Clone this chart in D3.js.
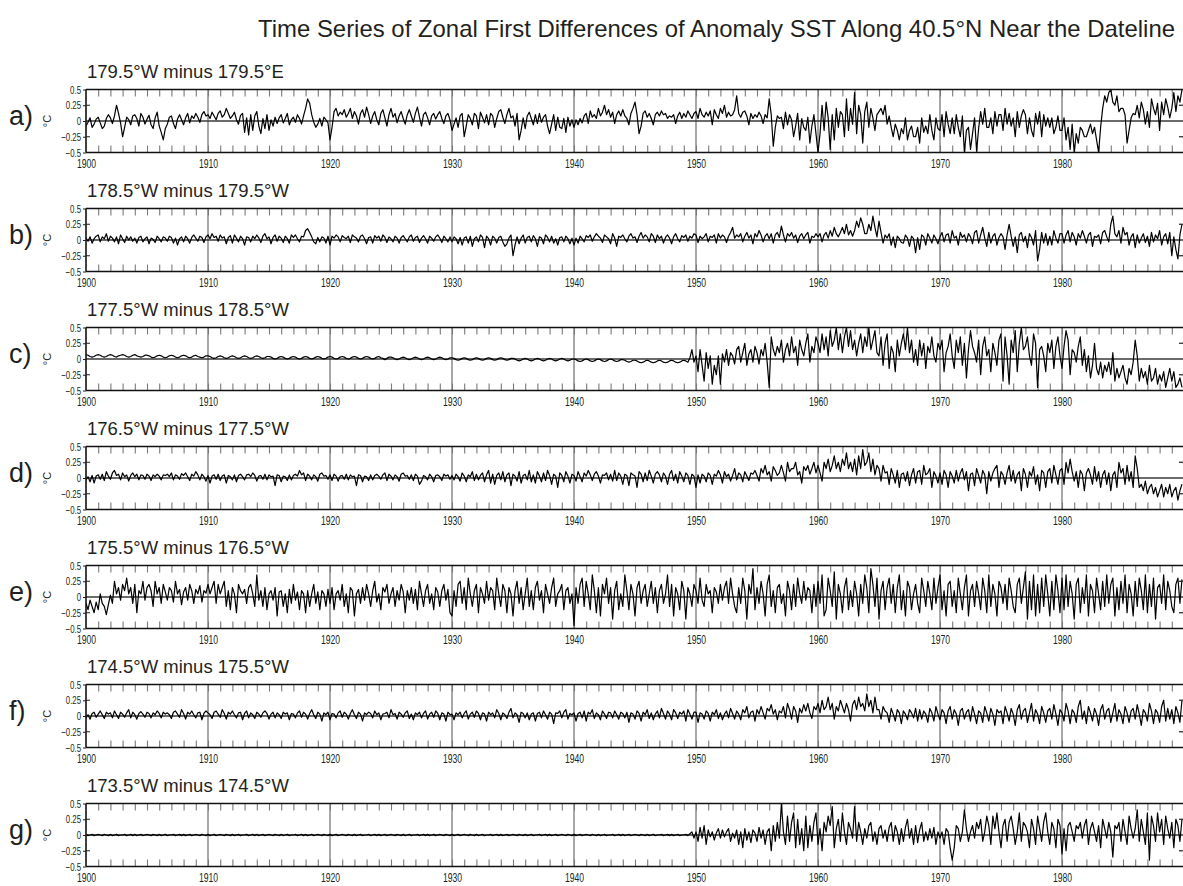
<!DOCTYPE html>
<html>
<head>
<meta charset="utf-8">
<script src="https://cdn.jsdelivr.net/npm/d3@7"></script>
<style>
  html, body { margin: 0; padding: 0; background: #fff; overflow: hidden; }
  svg { display: block; font-family: "Liberation Sans", Arial, sans-serif; }
</style>
</head>
<body>
<svg id="chart" width="1183" height="886"></svg>
<script>
// Zonal first differences of anomaly SST, six samples per year from 1900.0,
// in hundredths of a degree C. One row per decade, one group of six per year.
const diffA = [
  -8,-2,5,-10,-5,3, 6,-3,-12,-8,4,10, 5,-4,8,25,12,-3, -25,-10,6,2,-6,8, 10,4,-8,12,6,-5, 3,9,-6,-12,5,14, -8,-18,-30,-12,-5,6, 8,-4,-12,3,10,2, -6,5,12,-3,8,4, 12,6,-2,10,15,8,
  10,4,14,8,2,12, 16,6,10,20,12,4, 8,14,2,-5,9,12, -18,5,-22,10,-15,8, 15,-8,-20,4,-12,10, -15,2,-8,6,-4,5, 10,-3,4,12,-6,2, 6,-2,10,4,-5,8, 20,35,28,10,-2,-10, -5,4,-8,6,2,-3,
  -30,-10,15,20,8,14, 10,18,6,12,20,4, 15,8,-5,12,18,6, 22,10,-4,8,15,2, -6,12,18,5,-8,10, 20,6,12,-3,8,15, 4,-5,10,18,8,-2, 12,22,6,-8,10,14, 5,-6,8,12,3,10, 15,4,-4,8,12,2,
  -15,-5,5,-10,8,12, -25,-8,10,4,-6,12, 8,-12,14,6,-3,10, -6,12,8,-10,4,15, 18,6,-4,10,20,5, 8,-8,12,-30,-15,5, -12,8,14,4,-6,10, -4,12,-2,6,10,-8, -20,-5,10,-15,6,-10, -12,4,-18,6,-8,2,
  -10,2,-6,4,-3,8, 12,-4,16,6,10,4, 20,8,14,25,10,18, 6,14,-4,10,16,8, 18,8,4,-6,12,20, 30,10,-20,-8,12,16, 6,12,4,-6,10,14, 8,16,10,12,4,8, 6,10,-4,8,14,4, 12,6,16,10,4,12,
  15,4,20,10,6,14, 8,16,-6,18,10,4, 20,12,25,6,14,8, 10,18,40,12,6,14, 16,8,-6,12,4,10, 6,14,8,-4,10,5, 35,10,-40,-10,8,4, 6,-12,14,-6,10,2, -25,-8,12,-30,4,-10, -15,6,-35,-8,10,-20,
  -50,-20,25,-15,30,5, -45,10,-30,20,-10,15, 10,-25,35,-15,20,-5, 45,-20,25,10,-35,15, 30,-10,20,5,-15,10, 15,20,10,25,-5,8, -10,-25,-5,-15,-30,-12, -20,5,-30,-15,-8,-25, -25,-10,-35,5,-18,-8, -20,10,-15,-30,5,-12,
  -15,10,-25,15,-5,-20, 5,-20,10,-10,-25,8, -50,-15,-10,-45,-20,5, -48,-12,15,-5,20,-10, -10,5,-20,15,-8,10, 10,-15,20,-5,12,-8, 5,-25,15,-10,8,18, 10,-20,5,-15,-25,12, -5,15,-25,10,-8,5, -10,5,-20,-10,8,-15,
  -15,5,-30,-10,-45,-5, -50,-20,-35,-10,-15,-25, -25,-15,-5,-20,-10,-30, -50,-10,20,40,30,45, 50,30,25,40,15,20, 20,10,-35,-15,5,12, 10,25,5,30,18,-5, 15,-10,35,20,10,28, -15,30,10,35,22,5, 20,45,15,40,30,50
];
const diffB = [
  3,-2,5,-5,2,6, 8,-3,5,2,10,-2, 6,3,-3,5,-6,8, 2,-4,6,0,5,-2, 3,-5,4,6,-3,2, 5,-6,3,1,-4,6, 2,-3,5,3,-2,6, 4,-5,3,-8,2,5, -3,6,2,-5,4,8, 3,-2,6,4,-4,5,
  8,2,10,4,6,-2, 8,3,5,-6,4,7, -5,8,3,-3,6,2, -8,5,4,-3,6,2, 8,3,-4,6,10,2, 5,-6,4,8,-2,6, 3,-4,6,2,-5,8, 4,8,2,-3,6,5, 15,18,12,5,-3,-6, 4,-3,5,3,-5,6,
  -8,6,3,8,5,-3, 7,4,2,6,-4,8, 5,3,-3,6,8,2, -6,4,5,-5,7,3, 6,-2,8,4,-4,5, 2,-3,6,3,-5,4, 7,2,-3,5,8,-2, 4,6,-4,3,7,2, -5,6,3,-2,5,8, 3,-4,6,2,-3,5,
  -3,5,2,-6,4,-8, 3,5,-5,6,-10,2, 5,-3,8,4,-12,6, 2,-8,6,3,-5,4, 6,-3,-10,-6,3,8, -25,-8,5,-6,3,8, -5,4,6,-3,7,2, -10,5,3,-6,8,4, -3,6,-5,2,-8,4, 5,-3,6,2,-6,3,
  -8,3,-5,6,2,-3, 7,4,8,-2,5,10, 6,3,-4,8,5,2, -6,10,3,-10,6,4, 8,2,-3,6,10,3, 5,-4,6,12,3,8, 5,-3,10,6,-4,8, 2,6,-5,4,8,3, -6,5,10,2,-3,7, 4,8,-2,6,3,10,
  8,-4,6,2,5,10, -3,6,4,8,-5,10, 3,8,5,-4,6,12, 20,3,8,5,10,-3, 6,12,3,8,-6,10, 5,15,8,-3,6,10, 2,10,-5,8,12,4, 22,8,-3,10,6,12, 3,8,-4,6,10,2, 8,12,-5,6,4,10,
  5,10,-3,8,12,3, 15,6,20,10,5,12, 20,10,25,8,15,6, 15,30,20,35,25,10, 10,25,15,38,20,5, 30,12,-5,8,3,10, -8,5,-12,6,2,-4, -5,8,3,-10,6,2, -20,4,-15,8,5,-8, 10,3,-5,8,2,-6,
  5,12,-3,8,10,-5, 15,3,6,-8,12,4, 8,-3,10,5,-6,12, 15,-5,8,20,3,-10, 12,-5,6,10,-8,4, 10,5,-15,8,25,6, -10,5,-20,8,12,-3, 6,-12,10,4,-8,15, -33,-15,12,-5,10,-8, 6,-8,15,3,-5,10,
  10,-5,8,15,-3,12, 5,-8,10,3,15,6, -5,8,12,-10,6,4, 8,-6,12,15,5,-3, 25,38,10,5,15,-5, 20,8,12,-8,5,10, -12,8,-5,3,10,-4, 6,-10,12,-3,8,2, 15,-8,5,10,-6,12, -25,5,-15,-30,8,25
];
const diffC = [
  7,6,4,3,4,6, 7,6,4,3,4,6, 7,6,4,3,5,6, 7,6,4,3,4,6, 7,5,4,3,4,6, 6,5,3,2,3,5, 6,5,3,2,3,5, 6,5,3,2,3,5, 6,5,3,2,3,5, 6,4,3,2,3,5,
  5,4,2,1,2,4, 5,4,2,1,2,4, 5,4,2,1,2,4, 5,4,2,1,2,4, 5,4,2,1,2,4, 4,3,1,0,1,3, 4,3,1,0,1,3, 4,3,1,0,1,3, 4,3,1,0,1,3, 4,3,1,0,1,3,
  4,3,1,0,1,3, 4,3,1,0,1,3, 4,3,1,0,1,3, 4,3,1,0,1,3, 4,2,1,-1,1,3, 3,2,0,-1,0,2, 3,2,0,-1,0,2, 3,2,0,-1,0,2, 3,2,0,-1,0,2, 3,2,0,-1,0,2,
  2,1,-1,-2,-1,1, 2,1,-1,-2,-1,1, 2,1,-1,-2,-1,1, 2,1,-1,-2,-1,1, 2,1,-1,-2,-1,1, 1,0,-2,-3,-2,0, 1,0,-2,-3,-2,0, 1,0,-2,-3,-2,0, 1,0,-2,-3,-2,0, 1,0,-2,-3,-2,0,
  0,-1,-3,-4,-3,-1, 0,-1,-3,-4,-3,-1, 0,-1,-3,-4,-3,-1, 0,-1,-3,-4,-3,-1, -1,-2,-4,-5,-4,-2, -2,-3,-5,-6,-5,-3, -2,-3,-5,-6,-5,-3, -2,-3,-5,-6,-5,-3, -2,-3,-5,-6,-5,-3, -2,-3,-5,2,15,-5,
  5,-20,15,-10,-35,10, -15,5,-40,-10,-25,5, -40,8,-5,15,-10,10, 5,-8,15,20,-5,10, 25,-10,8,15,-5,20, 10,-8,15,5,25,-5, -45,35,15,5,20,10, 30,-5,15,25,5,35, 10,20,-10,30,15,5, 25,40,-5,20,10,35,
  25,10,40,15,35,5, 45,20,30,50,15,40, 10,35,50,20,45,15, 30,5,25,40,10,35, 20,50,15,30,45,10, 5,35,-10,25,40,-15, 20,10,-20,30,5,25, 40,15,50,10,30,-5, 15,-10,30,5,25,-15, 20,10,35,5,-5,25,
  15,30,-20,10,20,40, 5,-15,30,10,35,-10, 25,-30,15,45,20,10, -5,30,-25,20,35,5, 15,-20,25,10,-10,30, 40,-35,35,5,-40,30, 10,45,-20,25,50,15, 20,35,5,-10,40,25, -45,15,20,5,-20,25, 10,30,-15,20,35,5,
  -15,20,45,30,-25,15, 10,-5,20,35,-10,15, -20,5,-30,-10,25,-15, -25,-5,-30,-10,-20,-5, -25,10,-35,-15,-30,-20, -10,-30,-40,-15,-25,-5, 30,5,-35,-15,-30,-20, -40,-10,-35,-30,-15,-40, -25,-35,-20,-45,-30,-15, -35,-20,-45,-40,-30,-45
];
const diffD = [
  -3,2,-6,4,-8,3, 5,-2,6,-4,10,3, -2,8,12,4,6,-3, 8,2,5,-5,4,8, 2,6,-3,5,4,-2, 6,3,-4,5,2,6, 3,-3,5,4,6,2, 8,-3,5,3,-2,7, 4,8,2,-4,6,3, 10,5,-3,6,2,-5,
  4,-8,3,5,-2,6, -4,3,5,-8,4,2, -3,5,-6,4,6,2, -3,5,6,2,8,4, -5,3,4,-2,6,-3, 5,2,3,-12,5,4, -6,3,2,-4,5,-3, 4,6,3,12,5,8, -4,6,3,-3,5,2, -5,6,8,3,4,-2,
  5,-4,6,3,-5,3, 4,-2,6,-3,5,2, 3,-12,5,4,-6,3, 2,-4,5,-3,4,6, 3,-2,5,8,-4,6, 3,-3,5,2,-5,6, 8,3,4,-2,5,-4, 6,3,-10,-5,4,2, -3,6,2,-6,4,5, 2,-4,6,3,5,-2,
  4,-3,6,2,-5,8, 3,-6,5,2,10,-4, 6,-3,4,8,-6,5, 12,-8,6,-10,4,8, -3,10,-6,5,8,-12, 6,3,-5,10,-8,4, 6,-3,12,-6,5,-8, 10,3,-6,8,-4,12, 4,-10,6,3,-15,8, 4,-6,10,3,-8,6,
  4,-5,10,2,-6,8, 3,12,5,-4,6,10, 3,-8,5,4,8,-3, 6,-5,12,-4,8,3, -10,6,4,-12,8,5, 3,-15,10,6,-6,8, -4,12,3,-8,6,10, 5,-6,8,3,-10,6, 12,-4,6,-8,10,3, -6,8,4,-10,6,3,
  -15,5,-8,6,3,-6, 8,4,-10,6,3,12, 5,-8,10,2,6,-5, 4,15,-3,8,5,-6, 10,3,-4,8,6,12, 4,-5,15,8,20,5, 10,-5,18,12,4,8, 20,8,-5,25,10,15, 15,25,5,10,-8,18, 12,20,6,15,25,8,
  20,8,-5,25,15,30, 10,20,35,15,25,10, 30,20,40,15,25,10, 30,5,35,15,45,20, 25,40,10,30,5,20, 15,-5,20,8,10,-10, 15,5,-8,12,-15,6, 8,-5,10,-12,5,15, -8,10,12,-10,20,5, 8,15,-15,10,3,-8,
  8,-10,12,5,-15,10, 3,-8,12,-5,8,15, -3,10,-20,6,8,-12, 15,4,-8,12,5,-25, 10,-5,8,15,20,-15, 10,5,-10,8,20,-5, 12,-8,5,10,-20,15, 6,-15,10,3,18,-10, 5,-20,12,8,-15,10, 15,-8,20,5,-10,12,
  15,-10,25,8,30,10, -5,10,-15,12,6,-20, 8,15,5,-10,18,-5, 10,-15,5,12,-10,8, -20,5,10,-15,25,8, 15,-10,20,-5,10,-15, 35,15,-15,-10,-20,-5, -25,-15,-10,-25,-15,-30, -20,-10,-30,-15,-25,-10, -30,-20,-15,-35,-20,-10
];
const diffE = [
  -10,-20,-5,-15,-25,-8, -20,5,-10,-15,-28,-12, 3,-10,25,5,15,-5, 20,10,30,5,15,-10, 20,-25,10,5,25,-5, 15,20,10,-15,25,5, 15,-10,20,8,-5,15, 10,-8,25,5,12,-12, 8,15,-5,20,10,-10, 12,5,18,-8,10,6,
  20,5,15,25,-10,20, 5,15,25,-15,10,-20, 15,5,-25,20,10,5, 12,-10,15,20,5,-15, 35,-5,10,-15,15,-20, 5,10,-5,15,-30,8, 10,-15,5,-25,12,-10, 20,-5,8,-20,10,5, -25,10,-15,5,20,-10, 8,-20,10,5,-15,12,
  -10,15,-20,5,10,-5, 20,-15,5,-25,15,10, -30,5,12,-10,15,-5, 20,5,-15,10,25,-8, 5,-20,15,8,20,-10, 5,15,-15,10,-5,20, 8,-25,10,-5,15,-10, 12,-20,25,5,-15,10, 20,-10,5,-20,15,8, -15,10,20,-5,12,-25,
  -30,10,-15,20,25,-10, 15,-20,30,5,-15,10, 20,-25,15,5,-10,25, -5,15,10,-20,30,5, -15,20,10,-25,15,5, -30,10,25,-10,15,-20, 5,30,-15,10,-20,15, 25,-5,10,-25,20,5, -10,15,30,-15,5,10, 20,-20,10,15,-10,5,
  -45,15,-10,20,30,-15, 25,5,-20,35,10,-25, 15,-30,20,5,30,-10, 15,-35,10,25,-20,5, -15,35,10,-20,20,5, -30,15,25,-10,10,20, -15,5,25,-10,15,-25, 10,20,-10,5,35,-15, 20,-30,15,5,-20,25, 10,-35,15,5,-15,20,
  10,-10,30,-5,-15,20, 5,10,-25,15,8,-10, 20,-5,15,25,-10,30, 5,-15,-25,15,-10,30, 10,-35,20,5,45,-20, 15,-10,25,5,-30,20, 35,-15,10,-25,15,20, -10,5,-30,25,10,-20, 20,-15,30,5,-10,25, -5,15,10,-25,20,-15,
  25,-10,35,-30,-20,30, 10,-15,40,-35,20,5, -25,15,30,-20,10,-15, 25,5,-30,20,-10,35, 15,-25,45,20,-15,30, -35,10,25,-20,15,30, -10,20,-25,15,35,-20, 10,-30,25,15,-20,5, 20,-10,-25,30,10,-15, 25,5,-20,30,-10,15,
  35,-20,10,-30,20,25, -15,10,-25,30,5,-20, 15,35,-30,10,20,-15, 25,5,-20,30,10,-25, 35,-15,20,5,-30,25, 15,-10,20,-20,30,10, -15,-25,20,30,-10,15, 40,-35,25,-20,35,-30, 20,-25,30,-15,35,5, -30,25,-20,35,10,-25,
  30,-20,35,-15,25,5, -35,20,30,-25,15,-10, 35,-30,20,10,-25,30, 5,-20,25,-15,35,-10, 20,30,-30,15,-20,25, -10,35,-25,20,5,-30, 25,-15,30,10,-20,35, -25,20,-15,30,-35,15, 20,-10,35,-20,25,10, -15,-25,20,30,-10,28
];
const diffF = [
  -3,2,-5,4,6,-2, 3,8,2,-4,6,3, 5,-3,8,2,-4,6, 3,-2,5,10,-3,6, 2,-5,4,7,3,-2, 6,4,-3,5,2,8, 4,-3,6,3,5,2, -4,6,8,3,-2,10, 4,-5,6,3,8,2, -3,5,6,-6,4,8,
  5,2,-4,6,8,3, -2,10,4,-5,6,3, 8,2,-3,5,6,-6, 4,8,-3,5,2,-4, 6,3,-2,5,8,4, -5,3,6,-3,5,2, -4,6,3,5,-6,4, 3,-3,5,8,-2,6, 3,-5,4,10,2,-4, 6,3,-8,5,2,6,
  -6,4,3,-3,5,8, -2,6,3,-5,4,10, 2,-4,6,3,-8,5, 2,6,4,-3,8,2, 5,-6,3,4,6,-3, 10,2,4,-5,6,3, -2,5,8,-4,3,-6, 5,2,6,-3,4,8, -5,3,6,-2,8,4, -6,5,3,-8,6,2,
  3,-6,5,2,6,-3, 4,8,-5,3,6,-2, 8,4,-6,5,3,-8, 6,2,5,-3,10,4, -6,5,2,-4,6,12, -3,5,2,-10,6,4, -3,5,-6,3,5,-8, 4,6,-3,8,2,-5, 6,3,-12,5,4,8, -3,6,10,-5,4,2,
  5,-8,4,6,-3,8, -8,6,3,10,-4,5, 2,-6,8,3,-4,6, 5,-3,8,2,-5,6, 4,-3,6,-10,5,3, -5,8,4,-8,6,2, 10,-4,5,-6,3,8, -3,12,4,-5,8,3, -6,10,5,-4,6,3, 8,-8,10,3,-5,6,
  6,-10,5,3,-5,8, 4,-8,6,2,10,-4, 5,-6,3,8,-3,12, 4,-5,8,3,-6,10, 5,15,-3,6,8,-8, 10,3,15,5,-5,12, 8,18,3,10,-6,8, 5,15,-3,20,10,-5, 15,8,-10,12,5,18, 8,20,5,-4,15,10,
  20,5,25,10,15,30, 10,20,-5,15,8,25, 15,5,20,10,-8,18, 25,10,30,15,20,8, 35,15,25,5,30,10, 10,-5,15,8,5,-10, 12,3,-8,10,5,-12, 8,3,-6,10,5,-3, 12,-8,10,-5,8,3, -10,12,5,-8,15,3,
  -6,10,5,-12,8,15, -5,10,3,-15,8,12, -5,6,10,-8,15,3, -12,8,5,-10,15,5, -8,12,3,-15,10,5, 8,-12,15,5,-8,12, 3,-15,10,18,-5,8, 12,-10,5,20,-8,10, 3,-12,15,5,-10,8, 12,-5,18,3,-15,10,
  5,-8,20,8,-12,10, 5,-10,15,25,-5,8, -12,15,5,-8,12,3, -15,10,18,-5,8,12, -10,5,20,-8,10,3, -12,15,5,-10,8,12, -5,18,3,-15,10,5, -8,20,8,-12,10,5, -10,15,25,-8,12,-5, 10,-12,15,5,-10,25
];
const diffG = [
  1,-1,0,1,-1,0, 1,0,-1,1,0,-1, 1,-1,0,1,-1,0, 0,1,-1,0,1,-1, 1,-1,0,1,-1,0, 1,0,-1,1,0,-1, 1,-1,0,1,-1,0, 0,1,-1,0,1,-1, 1,-1,0,1,-1,0, 1,0,-1,1,0,-1,
  1,-1,0,1,-1,0, 1,0,-1,1,0,-1, 1,-1,0,1,-1,0, 0,1,-1,0,1,-1, 1,-1,0,1,-1,0, 1,0,-1,1,0,-1, 1,-1,0,1,-1,0, 0,1,-1,0,1,-1, 1,-1,0,1,-1,0, 1,0,-1,1,0,-1,
  1,-1,0,1,-1,0, 1,0,-1,1,0,-1, 1,-1,0,1,-1,0, 0,1,-1,0,1,-1, 1,-1,0,1,-1,0, 1,0,-1,1,0,-1, 1,-1,0,1,-1,0, 0,1,-1,0,1,-1, 1,-1,0,1,-1,0, 1,0,-1,1,0,-1,
  1,-1,0,1,-1,0, 1,0,-1,1,0,-1, 1,-1,0,1,-1,0, 0,1,-1,0,1,-1, 1,-1,0,1,-1,0, 1,0,-1,1,0,-1, 1,-1,0,1,-1,0, 0,1,-1,0,1,-1, 1,-1,0,1,-1,0, 1,0,-1,1,0,-1,
  1,-1,0,1,-1,0, 1,0,-1,1,0,-1, 1,-1,0,1,-1,0, 0,1,-1,0,1,-1, 1,-1,0,1,-1,0, 1,0,-1,1,0,-1, 1,-1,0,1,-1,0, 0,1,-1,0,1,-1, 1,-1,0,1,-1,0, 0,1,-1,2,5,-5,
  5,-10,12,-5,15,-15, 8,-3,5,-8,3,10, -5,8,-3,5,10,-10, 3,-5,8,-15,5,-20, 10,-8,5,-12,8,3, -10,12,-5,8,-15,5, 10,-25,15,-10,20,-5, 50,5,-15,30,-10,20, 35,-20,25,-15,10,-25, 30,-20,15,-10,20,35,
  -15,10,-25,20,5,30, 15,45,-20,10,25,-10, 35,5,-15,20,10,-5, 45,-10,20,5,-15,10, -5,15,20,-10,5,-15, 10,15,-5,8,-10,12, 20,-10,15,5,-15,10, -10,12,25,-5,10,-15, 15,-12,8,20,-10,5, -8,10,-5,12,-15,5,
  -5,5,-15,10,5,-20, -40,-20,15,10,-10,5, 40,10,-10,5,15,-5, 20,10,25,-10,5,30, 15,-15,30,10,35,5, -20,15,25,-10,20,30, 10,-15,5,35,-10,20, 15,5,-20,25,10,-15, 30,10,-10,20,35,5, -15,20,10,-20,25,15,
  -30,10,-25,15,20,5, -10,15,10,20,-5,15, 25,-15,10,20,5,-10, 15,-20,25,10,-5,20, 5,-35,15,10,20,-10, 25,5,-15,30,10,-5, 10,40,-10,25,5,-15, 35,-40,30,15,-10,35, 5,25,-15,30,10,-5, 20,-20,25,15,-10,25
];

const samplesPerYear = 6;
const panelSeries  = [diffA, diffB, diffC, diffD, diffE, diffF, diffG];
const panelLetters = ["a)", "b)", "c)", "d)", "e)", "f)", "g)"];
const panelTitles  = [
  "179.5°W minus 179.5°E",
  "178.5°W minus 179.5°W",
  "177.5°W minus 178.5°W",
  "176.5°W minus 177.5°W",
  "175.5°W minus 176.5°W",
  "174.5°W minus 175.5°W",
  "173.5°W minus 174.5°W"
];
const yTicks       = [0.5, 0.25, 0, -0.25, -0.5];
const yTickLabels  = ["0.5", "0.25", "0", "\u22120.25", "\u22120.5"];
const decadeLabels = [1900, 1910, 1920, 1930, 1940, 1950, 1960, 1970, 1980];
const yearTicks    = d3.range(1901, 1990);
const titleText    = "Time Series of Zonal First Differences of Anomaly SST Along 40.5°N Near the Dateline";

const svg = d3.select("#chart");
const ink = "#231f20";

const x = d3.scaleLinear().domain([1900, 1990]).range([86, 1184]);
const firstTop = 89.5, boxH = 63, step = 119;

// squeeze a text node horizontally to mimic a condensed face
function condense(sel, factor) {
  sel.each(function () {
    const len = this.getComputedTextLength();
    d3.select(this).attr("textLength", len * factor).attr("lengthAdjust", "spacingAndGlyphs");
  });
}

const title = svg.append("text")
  .attr("x", 258).attr("y", 37)
  .attr("font-size", 24).attr("fill", ink)
  .text(titleText);
{
  const len = title.node().getComputedTextLength();
  title.attr("textLength", Math.min(len, 917)).attr("lengthAdjust", "spacingAndGlyphs");
}

panelSeries.forEach((series, p) => {
  const top = firstTop + p * step;
  const bot = top + boxH;
  const y = d3.scaleLinear().domain([-0.5, 0.5]).range([bot, top]);
  const g = svg.append("g");

  g.append("text")
    .attr("x", 87).attr("y", top - 12)
    .attr("font-size", 18.5).attr("fill", ink)
    .text(panelTitles[p]);

  g.append("text")
    .attr("x", 9).attr("y", y(0) + 4)
    .attr("font-size", 27).attr("fill", ink)
    .text(panelLetters[p]);

  g.append("text")
    .attr("transform", `translate(51,${y(0)}) rotate(-90)`)
    .attr("text-anchor", "middle")
    .attr("font-size", 11).attr("fill", ink)
    .text("°C");

  const clipId = "clip" + p;
  g.append("clipPath").attr("id", clipId)
    .append("rect").attr("x", x(1900)).attr("y", top - 1)
    .attr("width", x(1990) - x(1900)).attr("height", boxH + 2);

  // decade grid lines
  g.append("g").selectAll("line")
    .data(decadeLabels.slice(1))
    .join("line")
    .attr("x1", d => x(d)).attr("x2", d => x(d))
    .attr("y1", top).attr("y2", bot)
    .attr("stroke", "#6d6d6d").attr("stroke-width", 1.2);

  // zero line
  g.append("line")
    .attr("x1", x(1900)).attr("x2", x(1990))
    .attr("y1", y(0)).attr("y2", y(0))
    .attr("stroke", "#3a3a3a").attr("stroke-width", 1.6);

  // yearly tick marks along top and bottom, pointing inward
  const bottomTicks = g.append("g").attr("transform", `translate(0,${bot})`)
    .call(d3.axisBottom(x).tickValues(yearTicks).tickSize(-7).tickFormat(""));
  const topTicks = g.append("g").attr("transform", `translate(0,${top})`)
    .call(d3.axisTop(x).tickValues(yearTicks).tickSize(-7).tickFormat(""));
  [bottomTicks, topTicks].forEach(a => {
    a.select(".domain").remove();
    a.selectAll(".tick line").attr("stroke", "#7a7a7a").attr("stroke-width", 1.1);
  });

  // series
  const line = d3.line()
    .x((d, i) => x(1900 + i / samplesPerYear))
    .y(d => y(d / 100));
  g.append("path")
    .datum(series)
    .attr("clip-path", `url(#${clipId})`)
    .attr("d", line)
    .attr("fill", "none")
    .attr("stroke", "#000")
    .attr("stroke-width", 1.2)
    .attr("stroke-linejoin", "round");

  // frame
  g.append("line").attr("x1", x(1900)).attr("x2", x(1990)).attr("y1", top).attr("y2", top)
    .attr("stroke", "#111").attr("stroke-width", 1.7);
  g.append("line").attr("x1", x(1900)).attr("x2", x(1990)).attr("y1", bot).attr("y2", bot)
    .attr("stroke", "#111").attr("stroke-width", 1.7);
  g.append("line").attr("x1", x(1900)).attr("x2", x(1900)).attr("y1", top).attr("y2", bot)
    .attr("stroke", "#111").attr("stroke-width", 1.6);

  // left axis labels with small outside ticks
  const yAxis = g.append("g").attr("transform", `translate(${x(1900)},0)`)
    .call(d3.axisLeft(y).tickValues(yTicks).tickSize(3).tickPadding(2)
      .tickFormat((d, i) => yTickLabels[i]));
  yAxis.select(".domain").remove();
  yAxis.selectAll(".tick line").attr("stroke", ink);
  yAxis.selectAll("text").attr("font-size", 11.5).attr("fill", ink)
    .attr("font-family", "'Liberation Sans', Arial, sans-serif")
    .call(condense, 0.68);

  // inner ticks at +/-0.25 on both sides
  [0.25, -0.25].forEach(v => {
    g.append("line").attr("x1", x(1900)).attr("x2", x(1900) + 4)
      .attr("y1", y(v)).attr("y2", y(v)).attr("stroke", ink).attr("stroke-width", 1);
    g.append("line").attr("x1", x(1990) - 5).attr("x2", x(1990))
      .attr("y1", y(v)).attr("y2", y(v)).attr("stroke", ink).attr("stroke-width", 1.2);
  });

  // decade labels below the frame
  const xAxis = g.append("g").attr("transform", `translate(0,${bot})`)
    .call(d3.axisBottom(x).tickValues(decadeLabels).tickSize(0).tickPadding(7)
      .tickFormat(d3.format("d")));
  xAxis.select(".domain").remove();
  xAxis.selectAll("text").attr("font-size", 12).attr("fill", ink)
    .attr("font-family", "'Liberation Sans', Arial, sans-serif")
    .call(condense, 0.72);
});
</script>
</body>
</html>
